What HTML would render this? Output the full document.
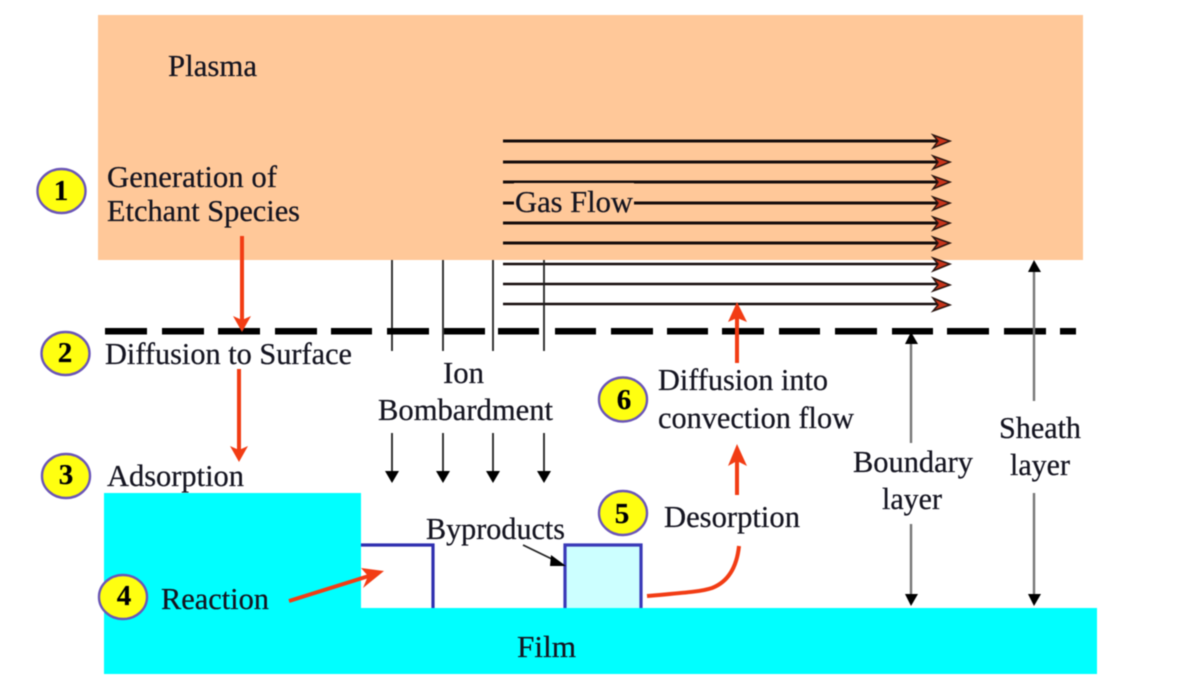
<!DOCTYPE html>
<html><head><meta charset="utf-8"><style>
html,body{margin:0;padding:0;background:#fff;width:1188px;height:686px;overflow:hidden}
svg{display:block;filter:blur(0.6px)}
text{font-family:"Liberation Serif",serif;font-size:31px;fill:#141420;stroke:#141420;stroke-width:0.25}
.n{font-weight:bold;font-size:29px;fill:#000;text-anchor:middle}
.g{stroke:#140c0c;stroke-width:3;fill:none}
.h{fill:#c8341a;stroke:#2a1510;stroke-width:1.5}
.r{stroke:#f23c14;stroke-width:4;fill:none}
.rh{fill:#f23c14}
.b{stroke:#222;stroke-width:1.8;fill:none}
.gr{stroke:#777;stroke-width:2.4;fill:none}
.c{fill:#ffff10;stroke:#6a55b8;stroke-width:2.4}
</style></head><body>
<svg width="1188" height="686" viewBox="0 0 1188 686" xmlns="http://www.w3.org/2000/svg">
<rect x="98" y="15" width="985" height="245" fill="#ffc899"/>
<rect x="104" y="493" width="257" height="116" fill="#00ffff"/>
<rect x="104" y="608" width="993" height="66" fill="#00ffff"/>

<!-- gas flow lines -->
<g class="g">
<path d="M503 141H940M503 162H940M503 182H940M503 203H940M503 223H940M503 243H940"/>
<path d="M503 264H940M503 284H940M503 304H940" stroke-width="2.5"/>
</g>
<g class="h">
<path d="M933 135L950 141L933 148L938 141Z"/>
<path d="M933 156L950 162L933 169L938 162Z"/>
<path d="M933 176L950 182L933 189L938 182Z"/>
<path d="M933 197L950 203L933 210L938 203Z"/>
<path d="M933 217L950 223L933 230L938 223Z"/>
<path d="M933 237L950 243L933 250L938 243Z"/>
<path d="M933 258L950 264L933 271L938 264Z"/>
<path d="M933 278L950 285L933 291L938 285Z"/>
<path d="M933 298L950 305L933 311L938 305Z"/>
</g>
<rect x="514" y="183" width="120" height="31" fill="#ffc899"/>
<text x="515" y="212" textLength="118" lengthAdjust="spacingAndGlyphs">Gas Flow</text>

<!-- ion lines -->
<g class="b">
<path d="M392 260V351M443 260V351M493 260V351M544 260V351"/>
<path d="M392 433V472M443 433V472M493 433V472M544 433V472"/>
</g>
<g fill="#000">
<path d="M385 471H399L392 483Z"/><path d="M436 471H450L443 483Z"/>
<path d="M486 471H500L493 483Z"/><path d="M537 471H551L544 483Z"/>
</g>

<!-- dashed line -->
<g fill="#000">
<rect x="105" y="328" width="42" height="6.5"/><rect x="162" y="328" width="42" height="6.5"/>
<rect x="218" y="328" width="42" height="6.5"/><rect x="275" y="328" width="42" height="6.5"/>
<rect x="331" y="328" width="41" height="6.5"/><rect x="387" y="328" width="42" height="6.5"/>
<rect x="444" y="328" width="41" height="6.5"/><rect x="498" y="328" width="41" height="6.5"/>
<rect x="555" y="328" width="41" height="6.5"/><rect x="611" y="328" width="42" height="6.5"/>
<rect x="667" y="328" width="41" height="6.5"/><rect x="722" y="328" width="42" height="6.5"/>
<rect x="779" y="328" width="41" height="6.5"/><rect x="835" y="328" width="42" height="6.5"/>
<rect x="892" y="328" width="41" height="6.5"/><rect x="947" y="328" width="42" height="6.5"/>
<rect x="1004" y="328" width="42" height="6.5"/><rect x="1060" y="328" width="16" height="6.5"/>
</g>

<!-- red arrows -->
<path class="r" d="M242 236V322"/>
<path class="rh" d="M233 316L242 332L251 316L242 320Z"/>
<path class="r" d="M239 369V452"/>
<path class="rh" d="M230 446L239 462L248 446L239 450Z"/>
<path class="r" d="M737 363V312"/>
<path class="rh" d="M728 322L737 302L747 322L737 318Z"/>
<path class="r" d="M737 495V455"/>
<path class="rh" d="M728 466L737 444L747 466L737 461Z"/>
<path class="r" d="M289 601L372 575" stroke-width="3"/>
<path class="rh" d="M361 568L384 571L363 588L368 576Z"/>
<path class="r" d="M647 596C680 593 700 592 712 588C730 581 737 565 739 546" stroke-width="2.8"/>

<!-- blue shapes -->
<path d="M361 545H433V608" fill="none" stroke="#2f2fb0" stroke-width="3.2"/>
<path d="M565 608V545H641V608" fill="#ccffff" stroke="#3a3ab8" stroke-width="3.2"/>
<path class="b" d="M523 545L556 561" stroke="#444"/>
<path fill="#000" d="M551 555L566 566L550 566Z"/>

<!-- boundary / sheath arrows -->
<g class="gr">
<path d="M911 342V443M911 524V597"/>
<path d="M1034 270V401M1034 493V597"/>
</g>
<g fill="#000">
<path d="M905 344L911 332L918 344Z"/>
<path d="M1028 272L1034 260L1041 272Z"/>
<path d="M905 594H918L911 606Z"/>
<path d="M1028 594H1041L1034 606Z"/>
</g>

<!-- text -->
<text x="168" y="76" textLength="89" lengthAdjust="spacingAndGlyphs">Plasma</text>
<text x="107" y="187" textLength="170" lengthAdjust="spacingAndGlyphs">Generation of</text>
<text x="107" y="221" textLength="193" lengthAdjust="spacingAndGlyphs">Etchant Species</text>
<text x="105" y="364" textLength="247" lengthAdjust="spacingAndGlyphs">Diffusion to Surface</text>
<text x="107" y="486" textLength="137" lengthAdjust="spacingAndGlyphs">Adsorption</text>
<text x="161" y="609" textLength="108" lengthAdjust="spacingAndGlyphs">Reaction</text>
<text x="443" y="383" textLength="41" lengthAdjust="spacingAndGlyphs">Ion</text>
<text x="378" y="420" textLength="175" lengthAdjust="spacingAndGlyphs">Bombardment</text>
<text x="426" y="539" textLength="139" lengthAdjust="spacingAndGlyphs">Byproducts</text>
<text x="664" y="527" textLength="136" lengthAdjust="spacingAndGlyphs">Desorption</text>
<text x="658" y="390" textLength="170" lengthAdjust="spacingAndGlyphs">Diffusion into</text>
<text x="658" y="428" textLength="196" lengthAdjust="spacingAndGlyphs">convection flow</text>
<text x="853" y="472" textLength="120" lengthAdjust="spacingAndGlyphs">Boundary</text>
<text x="882" y="509" textLength="60" lengthAdjust="spacingAndGlyphs">layer</text>
<text x="999" y="438" textLength="82" lengthAdjust="spacingAndGlyphs">Sheath</text>
<text x="1010" y="475" textLength="60" lengthAdjust="spacingAndGlyphs">layer</text>
<text x="517" y="657" textLength="59" lengthAdjust="spacingAndGlyphs">Film</text>

<!-- number circles -->
<ellipse class="c" cx="61.500" cy="191" rx="24" ry="22"/><text class="n" x="61" y="200">1</text>
<ellipse class="c" cx="65.500" cy="353.500" rx="24" ry="21.500"/><text class="n" x="65" y="362">2</text>
<ellipse class="c" cx="66" cy="476" rx="24" ry="22"/><text class="n" x="66" y="484">3</text>
<ellipse class="c" cx="123" cy="597" rx="24" ry="22"/><text class="n" x="124" y="605">4</text>
<ellipse class="c" cx="623" cy="513" rx="24" ry="22"/><text class="n" x="622" y="523">5</text>
<ellipse class="c" cx="623" cy="399.500" rx="24" ry="22"/><text class="n" x="624" y="409">6</text>
</svg>
</body></html>
